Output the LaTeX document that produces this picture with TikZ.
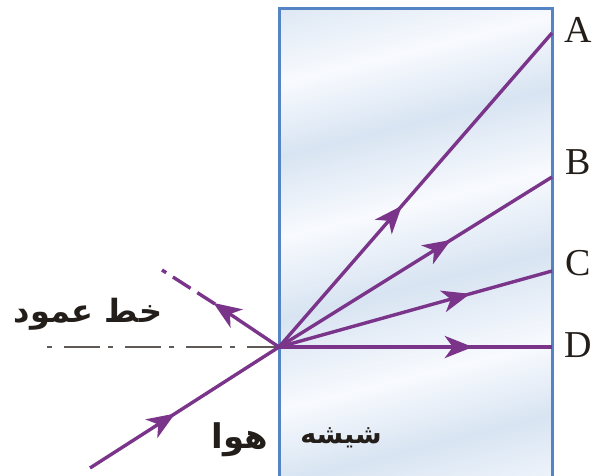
\documentclass[tikz,border=0pt]{standalone}
\usepackage{fontspec}
\TeXXeTstate=1
\newfontfamily\arabicfont[Script=Arabic]{DejaVu Sans}
\newfontfamily\letterfont{Liberation Serif}
\usetikzlibrary{arrows.meta,decorations.markings}
\definecolor{raycol}{RGB}{122,52,138}
\definecolor{edgecol}{RGB}{84,132,196}
\definecolor{glassA}{RGB}{216,228,242}
\definecolor{glassB}{RGB}{248,250,254}
\definecolor{normcol}{RGB}{95,90,85}
\definecolor{txtcol}{RGB}{35,30,25}
\pgfdeclareverticalshading{glassshade}{100bp}{%
  color(0bp)=(glassB); color(10bp)=(glassA); color(18bp)=(glassB);
  color(28bp)=(glassA); color(36bp)=(glassB); color(46bp)=(glassA);
  color(55bp)=(glassB); color(64bp)=(glassA); color(72bp)=(glassB);
  color(82bp)=(glassA); color(90bp)=(glassB); color(100bp)=(glassA)}
\tikzset{
  ray/.style={draw=raycol, line width=3.4pt},
  tipstyle/.style={-{Stealth[length=28pt,width=22pt,inset=8pt]}},
  midarrow/.style={postaction={decorate}, decoration={markings,
    mark=at position #1 with {\arrow[raycol]{Stealth[length=28pt,width=22pt,inset=8pt]}}}},
  letter/.style={font=\letterfont\fontsize{38}{40}\selectfont, text=txtcol, inner sep=0pt},
  farsi/.style={font=\arabicfont\bfseries\fontsize{#1}{#1}\selectfont, text=txtcol, inner sep=0pt},
}
\begin{document}
\begin{tikzpicture}[x=1pt,y=-1pt]
\useasboundingbox (0,0) rectangle (597,475);
% glass
\shade[shading=glassshade, shading angle=14] (279,8) rectangle (552,490);
\draw[edgecol, line width=3pt] (279,490) -- (279,8) -- (552,8) -- (552,490);
% points
\coordinate (P) at (279,347);
\coordinate (I) at (90,468);
\coordinate (R) at (162,270);
\coordinate (Q) at (215,304);
\coordinate (N) at (47,347);
\coordinate (EA) at (552,33);
\coordinate (EB) at (552,177);
\coordinate (EC) at (552,271);
\coordinate (ED) at (552,347);
% normal line
\draw[normcol, line width=2.4pt, dash pattern=on 5pt off 12pt on 36pt off 8pt] (N) -- (P);
% incident ray
\draw[ray, midarrow=0.45] (I) -- (P);
% reflected ray
\draw[ray, tipstyle, shorten >=-2pt] (P) -- (Q);
\draw[ray, dash pattern=on 21pt off 8pt] (Q) -- (R);
% refracted rays
\draw[ray, midarrow=0.45] (P) -- (EA);
\draw[ray, midarrow=0.63] (P) -- (EB);
\draw[ray, midarrow=0.70] (P) -- (EC);
\draw[ray, line width=4pt, midarrow=0.71] (P) -- (ED);
% labels
\node[letter] (A) at (578,30) {A};
\node[letter] (B) at (578,162) {B};
\node[letter] (C) at (578,263) {C};
\node[letter] (D) at (578,345) {D};
\node[farsi=32] (normal) at (88,314) {\beginR خط عمود\endR};
\node[farsi=34] (air) at (240,440) {\beginR هوا\endR};
\node[farsi=27] (glass) at (341,438) {\beginR شیشه\endR};
\end{tikzpicture}
\end{document}
